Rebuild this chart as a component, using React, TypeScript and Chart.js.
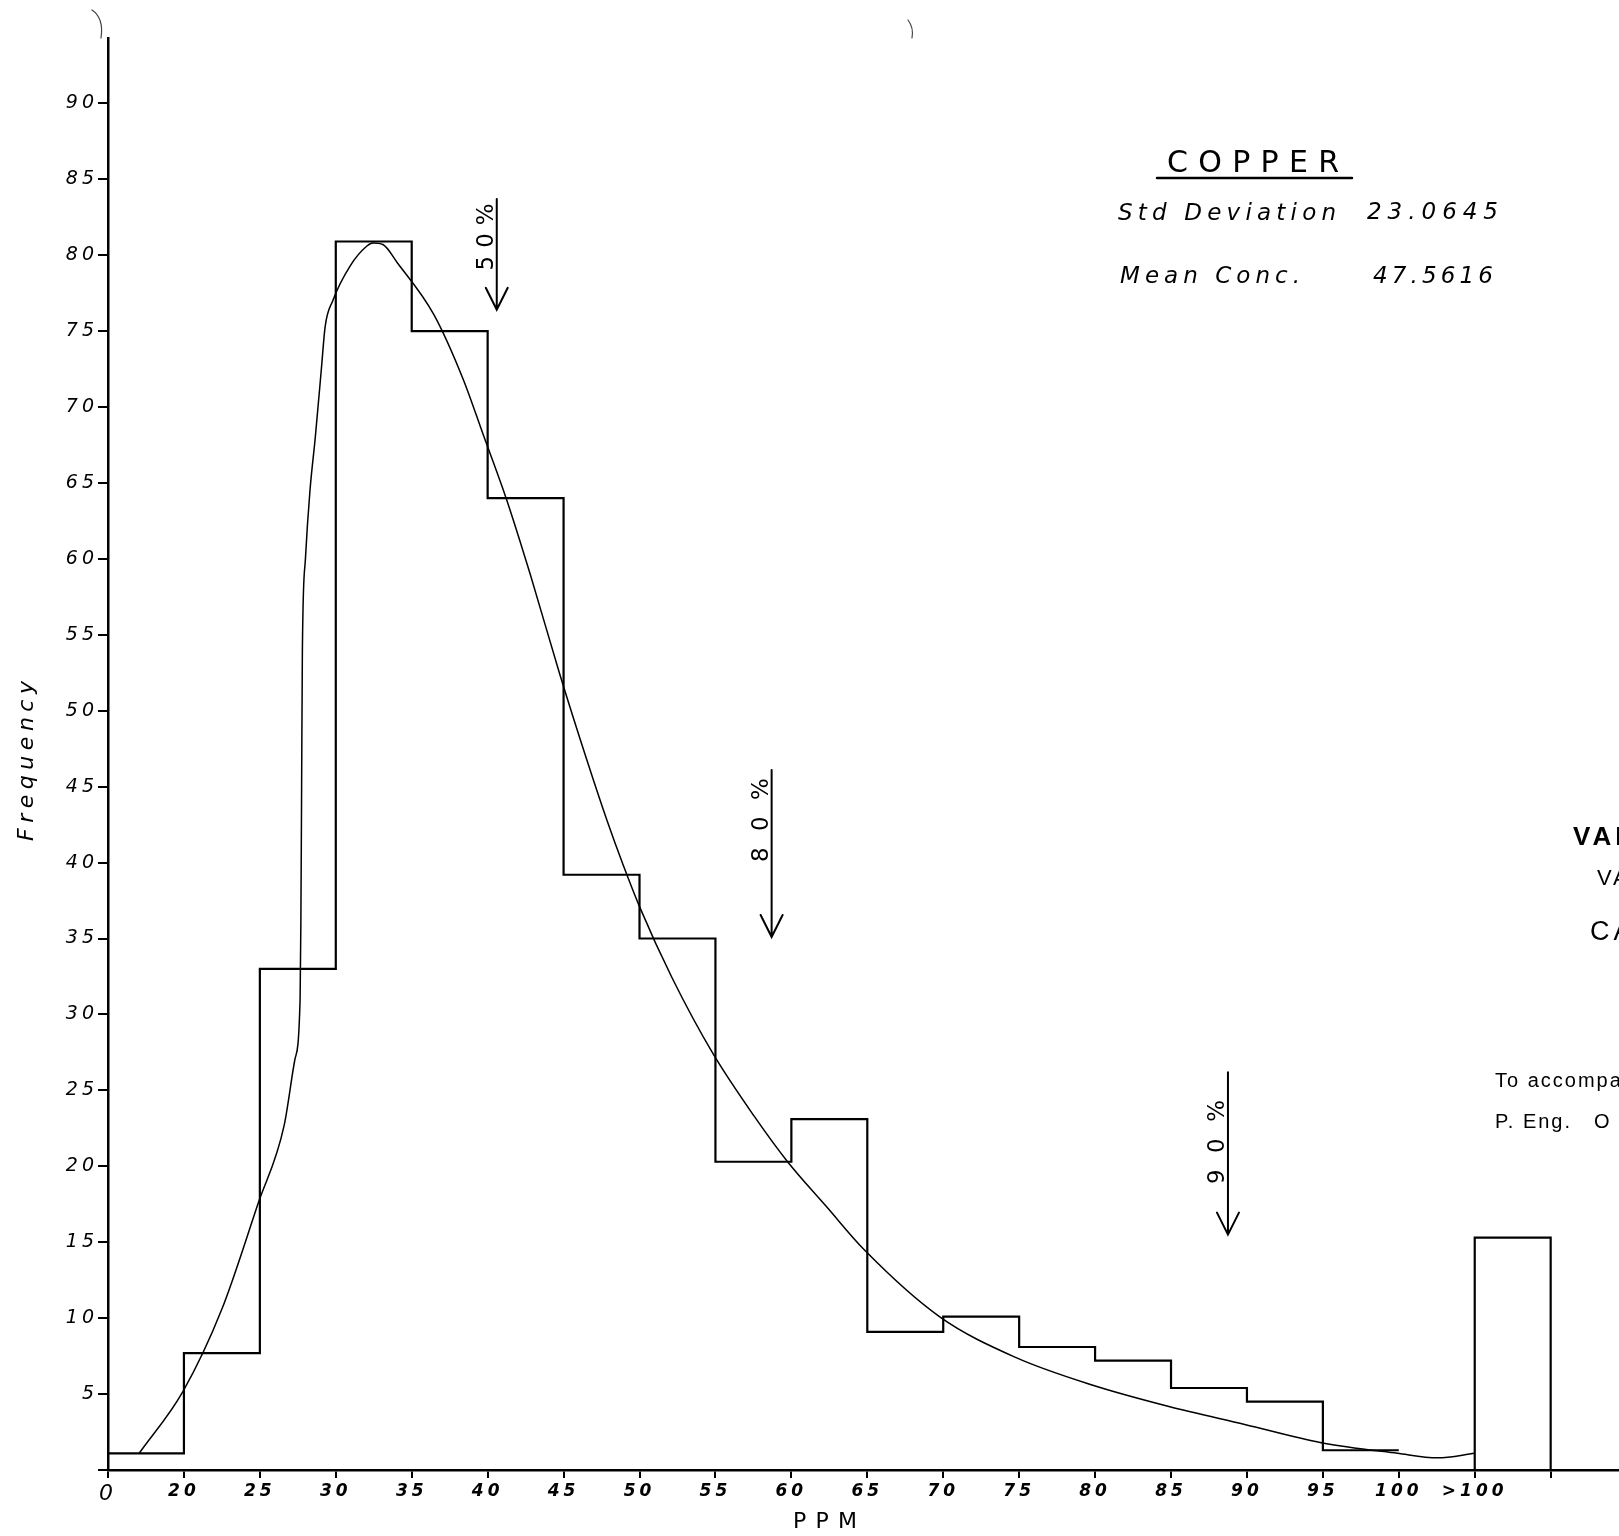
import React, { useEffect, useRef } from 'react';
import { Chart, registerables } from 'chart.js';

Chart.register(...registerables);

// ---- data ----
const binLabels = ['0', '20', '25', '30', '35', '40', '45', '50', '55', '60', '65', '70', '75', '80', '85', '90', '95', '100', '>100'];
// frequency of each bin: 0-20, 20-25, ... , 95-100
const histValues = [1.1, 7.7, 33.0, 80.9, 75.0, 64.0, 39.2, 35.0, 20.3, 23.1, 9.1, 10.1, 8.1, 7.2, 5.4, 4.5, 1.3];
// the separate ">100" bin
const over100Value = 15.3;
// fitted curve, position on the (bin-index) axis and frequency
const curvePos = [0.41, 0.99, 1.5, 1.98, 2.32, 2.46, 2.53, 2.54, 2.55, 2.56, 2.6, 2.66, 2.73, 2.81, 2.86, 2.96, 3.19, 3.41, 3.49, 3.62, 3.81, 4.29, 4.68, 4.94, 5.25, 5.56, 5.95, 6.31, 6.57, 6.78, 7.0, 7.43, 7.97, 8.51, 8.95, 9.47, 9.96, 10.95, 11.96, 12.96, 13.96, 14.97, 15.98, 16.98, 17.51, 18.0];
const curveFreq = [1.1, 5.2, 10.6, 17.6, 22.7, 27.0, 31.0, 36.0, 45.0, 54.0, 60.0, 64.5, 68.0, 72.5, 75.3, 77.0, 79.3, 80.6, 80.8, 80.7, 79.5, 76.1, 71.8, 68.2, 63.9, 59.0, 52.4, 46.7, 42.8, 39.9, 37.1, 32.4, 27.4, 23.3, 20.3, 17.3, 14.5, 10.1, 7.4, 5.6, 4.2, 3.0, 1.8, 1.1, 0.8, 1.1];
// percentile markers
const markerLabels = ['50%', '80%', '90%'];
const markerPos = [5.12, 8.74, 14.75];
const markerTop = [83.7, 46.1, 26.2];
const markerTip = [76.4, 35.1, 15.5];
const markerTextCenter = [81.2, 42.8, 21.6];

const titleText = 'COPPER';
const statLabels = ['Std Deviation', 'Mean Conc.'];
const statValues = ['23.0645', '47.5616'];
const xTitle = 'PPM';
const yTitle = 'Frequency';

const HAND = '"DejaVu Sans", sans-serif';
const PRINT = '"Liberation Sans", Arial, sans-serif';

function fitText(ctx: CanvasRenderingContext2D, s: string, x: number, y: number, width: number, font: string) {
  const c: any = ctx;
  ctx.font = font;
  c.letterSpacing = '0px';
  const w = ctx.measureText(s).width;
  const ls = s.length > 1 ? (width - w) / (s.length - 1) : 0;
  c.letterSpacing = ls + 'px';
  ctx.textAlign = 'left';
  ctx.fillText(s, x, y);
  c.letterSpacing = '0px';
}

function spacedText(ctx: CanvasRenderingContext2D, s: string, x: number, y: number, font: string, ls: number) {
  const c: any = ctx;
  ctx.font = font;
  c.letterSpacing = ls + 'px';
  ctx.textAlign = 'left';
  ctx.fillText(s, x, y);
  c.letterSpacing = '0px';
}

const notesPlugin = {
  id: 'copperNotes',
  beforeDraw(chart: any) {
    // hand-lettered tick labels are widely spaced
    (chart.ctx as any).letterSpacing = '4px';
  },
  afterDraw(chart: any) {
    const ctx: CanvasRenderingContext2D = chart.ctx;
    (ctx as any).letterSpacing = '0px';
    const xs = chart.scales.x;
    const ys = chart.scales.y;
    ctx.save();
    ctx.fillStyle = '#000';
    ctx.strokeStyle = '#000';
    ctx.lineCap = 'round';

    // axis titles
    ctx.save();
    ctx.translate(27, 761);
    ctx.rotate(-Math.PI / 2);
    ctx.textBaseline = 'middle';
    fitText(ctx, yTitle, -80, 0, 160, `italic 22px ${HAND}`);
    ctx.restore();
    ctx.textBaseline = 'middle';
    fitText(ctx, xTitle, 793, 1522, 64, `22px ${HAND}`);

    // COPPER block
    ctx.textBaseline = 'alphabetic';
    fitText(ctx, titleText, 1167, 172, 172, `30px ${HAND}`);
    ctx.lineWidth = 2.5;
    ctx.beginPath();
    ctx.moveTo(1157, 178);
    ctx.lineTo(1352, 178);
    ctx.stroke();
    fitText(ctx, statLabels[0], 1118, 220, 218, `italic 23px ${HAND}`);
    fitText(ctx, statValues[0], 1367, 219, 131, `italic 23px ${HAND}`);
    fitText(ctx, statLabels[1], 1120, 283, 180, `italic 23px ${HAND}`);
    fitText(ctx, statValues[1], 1373, 283, 120, `italic 23px ${HAND}`);

    // percentile arrows
    ctx.lineWidth = 2;
    for (let i = 0; i < markerLabels.length; i++) {
      const x = xs.getPixelForValue(markerPos[i]);
      const yTop = ys.getPixelForValue(markerTop[i]);
      const yTip = ys.getPixelForValue(markerTip[i]);
      ctx.beginPath();
      ctx.moveTo(x, yTop);
      ctx.lineTo(x, yTip);
      ctx.moveTo(x - 11, yTip - 22);
      ctx.lineTo(x, yTip);
      ctx.lineTo(x + 11, yTip - 22);
      ctx.stroke();
      const yc = ys.getPixelForValue(markerTextCenter[i]);
      const len = i === 0 ? 67 : 84;
      ctx.save();
      ctx.translate(x - 10, yc);
      ctx.rotate(-Math.PI / 2);
      ctx.textBaseline = 'middle';
      fitText(ctx, markerLabels[i], -len / 2, 0, len, `23px ${HAND}`);
      ctx.restore();
    }

    // cut-off title block at the right edge
    ctx.textBaseline = 'alphabetic';
    spacedText(ctx, 'VAN', 1573, 845, `bold 26px ${PRINT}`, 4);
    spacedText(ctx, 'VAN', 1597, 885, `22px ${PRINT}`, 3);
    spacedText(ctx, 'CAN', 1590, 940, `27px ${PRINT}`, 4);
    spacedText(ctx, 'To accompany', 1495, 1087, `20px ${PRINT}`, 2);
    spacedText(ctx, 'P. Eng.', 1495, 1128, `20px ${PRINT}`, 2);
    spacedText(ctx, 'O', 1594, 1128, `20px ${PRINT}`, 2);

    // scan marks at the top
    ctx.lineWidth = 1.2;
    ctx.strokeStyle = '#444';
    ctx.beginPath();
    ctx.moveTo(92, 10);
    ctx.quadraticCurveTo(104, 18, 101, 38);
    ctx.moveTo(908, 20);
    ctx.quadraticCurveTo(914, 28, 912, 38);
    ctx.stroke();
    ctx.restore();
  },
};

export default function App() {
  const ref = useRef<HTMLCanvasElement | null>(null);

  useEffect(() => {
    if (!ref.current) return;
    const histPoints = histValues
      .map((v, i) => ({ x: i, y: v }))
      .concat([{ x: histValues.length, y: histValues[histValues.length - 1] }]);
    const o = binLabels.length - 1;
    const overPoints = [
      { x: o, y: 0 },
      { x: o, y: over100Value },
      { x: o + 1, y: over100Value },
      { x: o + 1, y: 0 },
    ];
    const curvePoints = curvePos.map((p, i) => ({ x: p, y: curveFreq[i] }));

    const chart = new Chart(ref.current, {
      type: 'line',
      data: {
        datasets: [
          {
            data: histPoints,
            stepped: 'before',
            borderColor: '#000',
            borderWidth: 2.2,
            pointRadius: 0,
            fill: false,
          },
          {
            data: overPoints,
            borderColor: '#000',
            borderWidth: 2.2,
            pointRadius: 0,
            tension: 0,
            fill: false,
          },
          {
            data: curvePoints,
            borderColor: '#000',
            borderWidth: 1.5,
            pointRadius: 0,
            cubicInterpolationMode: 'monotone',
            fill: false,
          },
        ],
      } as any,
      options: {
        responsive: false,
        animation: false,
        devicePixelRatio: 1,
        layout: { padding: { top: 38, left: 0, right: 0, bottom: 0 } },
        plugins: { legend: { display: false }, tooltip: { enabled: false } },
        scales: {
          x: {
            type: 'linear',
            min: 0,
            max: 19.9,
            afterFit: (s: any) => {
              s.height = 66;
            },
            grid: { drawOnChartArea: false, drawTicks: true, tickLength: 8, color: '#000', lineWidth: 2 },
            border: { color: '#000', width: 2.5 },
            ticks: {
              stepSize: 1,
              includeBounds: false,
              autoSkip: false,
              maxRotation: 0,
              padding: 3,
              color: '#000',
              font: (c: any) =>
                c.index === 0
                  ? { family: HAND, size: 22, style: 'italic', weight: 'normal' }
                  : { family: HAND, size: 17, style: 'italic', weight: 'bold' },
              callback: (v: any) => {
                const i = Math.round(Number(v));
                return binLabels[i] !== undefined ? binLabels[i] : '';
              },
            },
          },
          y: {
            type: 'linear',
            min: 0,
            max: 94.3,
            afterFit: (s: any) => {
              s.width = 108;
            },
            grid: { drawOnChartArea: false, drawTicks: true, tickLength: 10, color: '#000', lineWidth: 2 },
            border: { color: '#000', width: 2.5 },
            ticks: {
              stepSize: 5,
              includeBounds: false,
              padding: 0,
              color: '#000',
              font: { family: HAND, size: 19, style: 'italic' },
              callback: (v: any) => (Number(v) === 0 ? '' : String(v)),
            },
          },
        },
      },
      plugins: [notesPlugin],
    } as any);
    return () => chart.destroy();
  }, []);

  return (
    <div style={{ position: 'absolute', left: 0, top: 0, width: 1619, height: 1536, background: '#fff' }}>
      <canvas ref={ref} width={1619} height={1536} style={{ display: 'block' }} />
    </div>
  );
}
